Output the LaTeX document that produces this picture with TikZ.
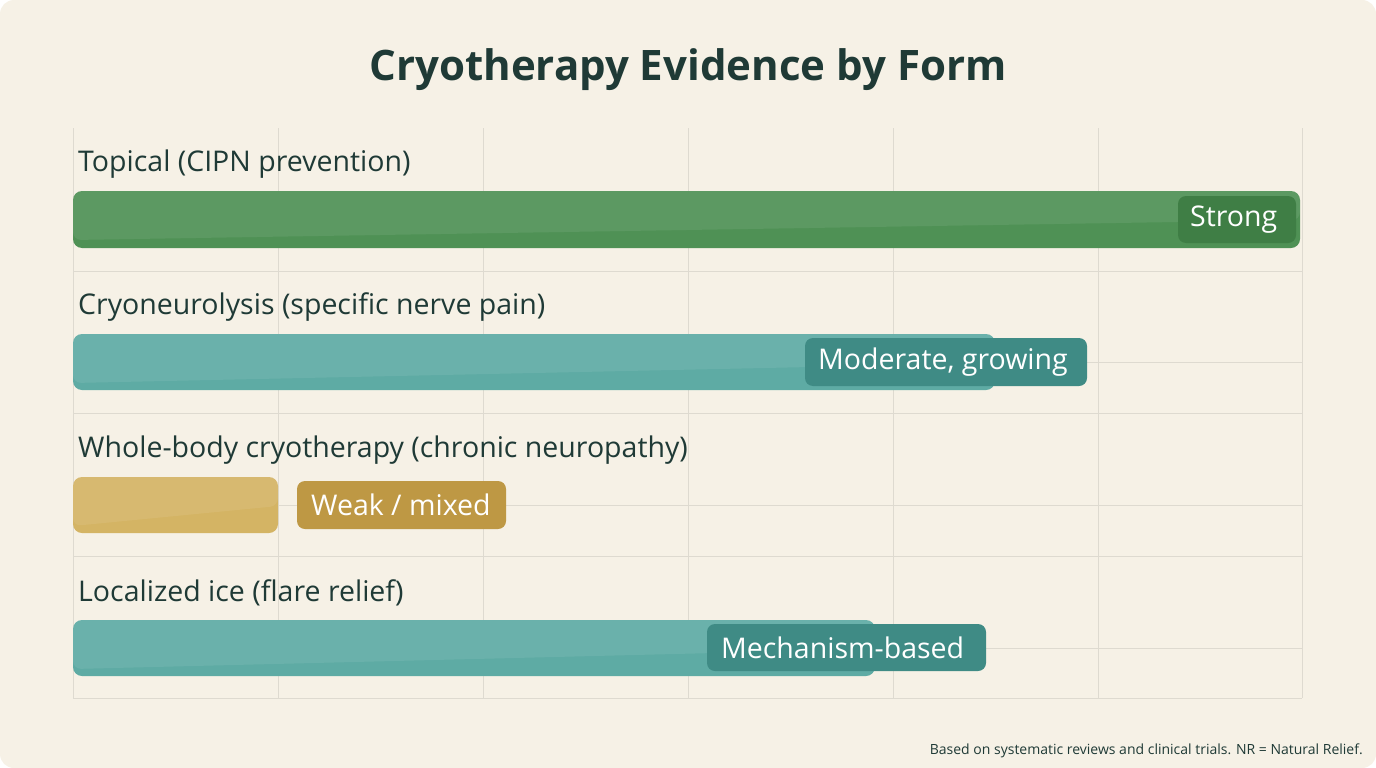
\documentclass[tikz,border=0pt]{standalone}
\usepackage{fontspec}
\setmainfont{Open Sans}
\definecolor{bg}{HTML}{F6F1E6}
\definecolor{gridc}{HTML}{DEDAD0}
\definecolor{ink}{HTML}{1F3A36}
\definecolor{gA}{HTML}{4F9155}
\definecolor{gB}{HTML}{3F7E45}
\definecolor{tA}{HTML}{5EABA4}
\definecolor{tB}{HTML}{3F8B85}
\definecolor{yA}{HTML}{D4B464}
\definecolor{yB}{HTML}{BE9844}
\tikzset{x=1pt,y=-1pt,
 bar/.style={rounded corners=9pt},
 shine/.style={white,opacity=0.08},
 tag/.style={rounded corners=8pt,text=white,font=\fontsize{28.5}{32}\selectfont,inner sep=0pt,anchor=west},
 rowlabel/.style={anchor=west,text=ink,font=\fontsize{28.5}{32}\selectfont,inner sep=0pt}}
\begin{document}
\begin{tikzpicture}
\fill[bg,rounded corners=14pt] (0,0) rectangle (1376,768);
\useasboundingbox (0,0) rectangle (1376,768);
\foreach \x in {73,278,483,688,893,1098,1302} \draw[gridc,line width=1pt] (\x,128) -- (\x,698);
\foreach \y in {271,413,556,698,362,505,648} \draw[gridc,line width=1pt] (73,\y) -- (1302,\y);
\node[font=\fontsize{42}{48}\selectfont\bfseries,text=ink] (title) at (688,70) {Cryotherapy Evidence by Form};
% row 1
\node[rowlabel] (l1) at (78,164) {Topical (CIPN prevention)};
\fill[gA,bar] (73,191) rectangle (1300,248);
\fill[shine,rounded corners=8pt] (73,191) -- (1300,191) -- (1300,220) -- (73,240) -- cycle;
\fill[gB,rounded corners=8pt] (1178,196) rectangle (1296,243);
\node[tag] (t1) at (1190,220) {Strong};
% row 2
\node[rowlabel] (l2) at (78,307) {Cryoneurolysis (specific nerve pain)};
\fill[tA,bar] (73,334) rectangle (995,390);
\fill[shine,rounded corners=8pt] (73,334) -- (995,334) -- (995,363) -- (73,383) -- cycle;
\fill[tB,rounded corners=8pt] (805,338) rectangle (1087,386);
\node[tag] (t2) at (818,362) {Moderate, growing};
% row 3
\node[rowlabel] (l3) at (78,450) {Whole-body cryotherapy (chronic neuropathy)};
\fill[yA,bar] (73,477) rectangle (278,533);
\fill[shine,rounded corners=8pt] (73,477) -- (278,477) -- (278,506) -- (73,526) -- cycle;
\fill[yB,rounded corners=8pt] (297,481) rectangle (506,529);
\node[tag] (t3) at (311,505) {Weak / mixed};
% row 4
\node[rowlabel] (l4) at (78,593) {Localized ice (flare relief)};
\fill[tA,bar] (73,620) rectangle (875,676);
\fill[shine,rounded corners=8pt] (73,620) -- (875,620) -- (875,649) -- (73,669) -- cycle;
\fill[tB,rounded corners=8pt] (707,624) rectangle (986,671);
\node[tag] (t4) at (721,648) {Mechanism-based};
\node[anchor=east,text=ink,font=\fontsize{14}{16}\selectfont,inner sep=0pt] (foot) at (1363,751) {Based on systematic reviews and clinical trials. NR = Natural Relief.};
\end{tikzpicture}
\end{document}
